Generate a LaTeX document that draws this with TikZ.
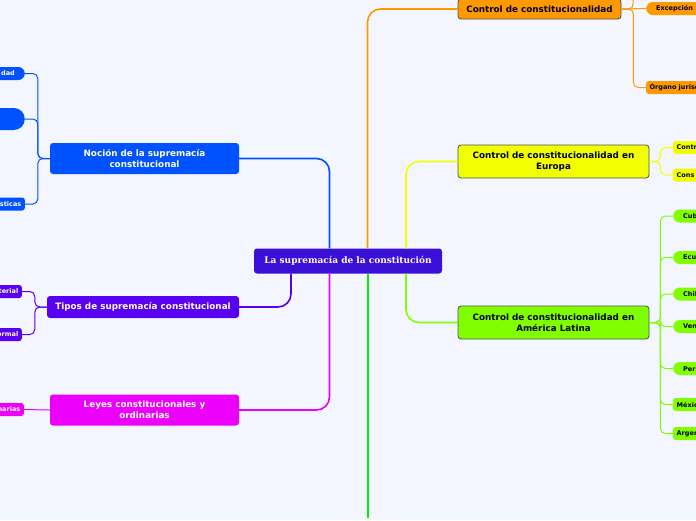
\documentclass[tikz,border=0pt]{standalone}
\usepackage{fontspec}
\setmainfont{DejaVu Sans}
\newfontfamily\titlefont{DejaVu Serif}
\usetikzlibrary{positioning}
\hyphenpenalty=10000

\definecolor{bgcol}{RGB}{243,246,254}
\definecolor{rootcol}{RGB}{58,16,214}
\definecolor{nocioncol}{RGB}{0,82,255}
\definecolor{tiposcol}{RGB}{90,0,240}
\definecolor{leyescol}{RGB}{235,0,250}
\definecolor{ctrlcol}{RGB}{255,153,0}
\definecolor{europacol}{RGB}{242,255,0}
\definecolor{latamcol}{RGB}{128,255,0}
\definecolor{greencol}{RGB}{0,240,0}
\definecolor{edgecol}{RGB}{80,80,80}

\begin{document}
\begin{tikzpicture}[x=1pt,y=-1pt,
  topic/.style={rectangle,rounded corners=3pt,inner sep=0pt,align=center,
    font=\fontsize{8.8}{11}\selectfont\bfseries},
  darktopic/.style={topic,draw=edgecol,line width=0.8pt,text=black},
  lighttopic/.style={topic,text=white},
  leaf/.style={rectangle,rounded corners=6.5pt,inner xsep=10pt,inner ysep=0pt,
    minimum height=13,text width=110,font=\fontsize{6.5}{7}\selectfont\bfseries},
  leafsq/.style={leaf,rounded corners=2.5pt,inner xsep=3.5pt},
  branch/.style={line width=1.6pt,rounded corners=13pt},
  twig/.style={line width=1pt,rounded corners=5pt}]

  \useasboundingbox (0,0) rectangle (696,520);
  \clip (0,0) rectangle (696,520);
  \fill[bgcol] (0,0) rectangle (696,520);

  % Root
  \node[lighttopic,fill=rootcol,minimum width=188,minimum height=25,
    font=\titlefont\fontsize{9}{10}\selectfont\bfseries] (root) at (348,261)
    {La supremacía de la constitución};

  % Left topics
  \node[lighttopic,fill=nocioncol,minimum width=189,minimum height=31]
    (nocion) at (144.5,158.5) {Noción de la supremacía\\constitucional};
  \node[lighttopic,fill=tiposcol,minimum width=192,minimum height=22]
    (tipos) at (143,307) {Tipos de supremacía constitucional};
  \node[lighttopic,fill=leyescol,minimum width=189,minimum height=31]
    (leyes) at (144.5,410) {Leyes constitucionales y\\ordinarias};

  % Right topics
  \node[darktopic,fill=ctrlcol,minimum width=163,minimum height=20]
    (ctrl) at (539.5,9) {Control de constitucionalidad};
  \node[darktopic,fill=europacol,minimum width=191,minimum height=33]
    (europa) at (553.5,161.5) {Control de constitucionalidad en\\Europa};
  \node[darktopic,fill=latamcol,minimum width=191,minimum height=33]
    (latam) at (553.5,322.5) {Control de constitucionalidad en\\América Latina};

  % Left leaves
  \node[leaf,align=right,fill=nocioncol,text=white,anchor=east] (dad) at (25,73.5) {dad};
  \node[leaf,fill=nocioncol,rounded corners=11pt,minimum height=22,anchor=east]
    (blank) at (25,119) {};
  \node[leafsq,align=right,fill=nocioncol,text=white,anchor=east]
    (caract) at (25,204) {Características};
  \node[leafsq,align=right,fill=tiposcol,text=white,anchor=east]
    (material) at (22,291.5) {Material};
  \node[leafsq,align=right,fill=tiposcol,text=white,anchor=east]
    (formal) at (22,334.5) {Formal};
  \node[leafsq,align=right,fill=leyescol,text=white,anchor=east]
    (ordin) at (24,409.5) {ordinarias};

  % Right leaves
  \node[leaf,align=left,fill=ctrlcol,anchor=west] (excep) at (646,8.5) {Excepción};
  \node[leafsq,align=left,fill=ctrlcol,anchor=west] (organo) at (646,87.5)
    {Órgano jurisdiccional};
  \node[leafsq,align=left,fill=europacol,anchor=west] (contr) at (673,147.5) {Control};
  \node[leafsq,align=left,fill=europacol,anchor=west] (cons) at (673,175) {Cons};
  \node[leaf,align=left,fill=latamcol,anchor=west] (cuba) at (673,216) {Cuba};
  \node[leaf,align=left,fill=latamcol,anchor=west] (ecuador) at (673,257.5) {Ecuador};
  \node[leaf,align=left,fill=latamcol,anchor=west] (chile) at (673,294) {Chile};
  \node[leaf,align=left,fill=latamcol,anchor=west] (venez) at (673,326.5) {Venezuela};
  \node[leaf,align=left,fill=latamcol,anchor=west] (peru) at (673,368.5) {Perú};
  \node[leafsq,align=left,fill=latamcol,anchor=west] (mexico) at (673,404.5) {México};
  \node[leafsq,align=left,fill=latamcol,anchor=west] (argen) at (673,433.5) {Argentina};

  \coordinate (greenend) at (367.5,518);
  \coordinate (ctrltop) at (633,0);

  % Main branches
  \draw[branch,nocioncol] (nocion.east) -| ([xshift=-18.5pt]root.north);
  \draw[branch,ctrlcol] (ctrl.west) -| ([xshift=19.5pt]root.north);
  \draw[branch,europacol] (europa.west) -| ([xshift=58pt]root.north);
  \draw[branch,tiposcol] (tipos.east) -| ([xshift=-57pt]root.south);
  \draw[branch,leyescol] (leyes.east) -| ([xshift=-18.5pt]root.south);
  \draw[line width=2pt,color=greencol] ([xshift=19.5pt]root.south) -- (greenend);
  \draw[branch,latamcol] (latam.west) -| ([xshift=58pt]root.south);

  % Twigs
  \foreach \leaf in {dad,blank,caract}
    \draw[twig,nocioncol] (nocion.west) -- ++(-12,0) |- (\leaf.east);
  \foreach \leaf in {material,formal}
    \draw[twig,tiposcol] (tipos.west) -- ++(-12,0) |- (\leaf.east);
  \draw[twig,leyescol] (leyes.west) -- (ordin.east);
  \draw[twig,ctrlcol] (ctrl.east) -- (excep.west);
  \draw[twig,ctrlcol] (ctrl.east) -- ++(12,0) |- (organo.west);
  \draw[twig,ctrlcol] (ctrl.east) -- ++(12,0) -- (ctrltop);
  \foreach \leaf in {contr,cons}
    \draw[twig,europacol] (europa.east) -- ++(11,0) |- (\leaf.west);
  \foreach \leaf in {cuba,ecuador,chile,venez,peru,mexico,argen}
    \draw[twig,latamcol] (latam.east) -- ++(11,0) |- (\leaf.west);
\end{tikzpicture}
\end{document}
